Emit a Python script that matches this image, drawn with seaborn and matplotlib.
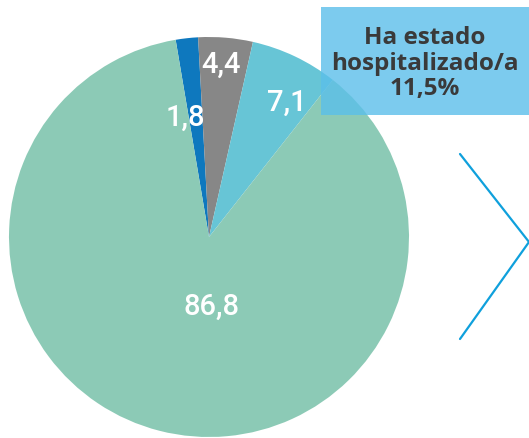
import numpy as np
import matplotlib
matplotlib.use("Agg")
import matplotlib.pyplot as plt
import seaborn as sns

# data
labels = ["1,8", "4,4", "7,1", "86,8"]
values = [1.8, 4.4, 7.1, 86.8]
slice_colors = ["#0E78BE", "#878787", "#67C5D6", "#8CCAB6"]
box_text = "Ha estado\nhospitalizado/a\n11,5%"

sns.set_theme(style="white")
plt.rcParams['font.family'] = ['Open Sans', 'DejaVu Sans']

fig = plt.figure(figsize=(5.29, 4.39), dpi=100)
ax = fig.add_axes([0, 0, 1, 1])

start = 99.6
wedges, _ = ax.pie(values, colors=sns.color_palette(slice_colors), startangle=start,
                   counterclock=False, radius=1.0, center=(0, 0),
                   wedgeprops=dict(linewidth=0))

# label spots (angle in degrees, fraction of radius) as in the original
label_pos = [(101, 0.61), (86, 0.87), (60, 0.78), (-88, 0.345)]
for lab, (ang, d) in zip(labels, label_pos):
    ax.text(d * np.cos(np.radians(ang)), d * np.sin(np.radians(ang)), lab,
            color="white", fontsize=21, family=['Roboto', 'DejaVu Sans'],
            fontweight="medium", ha="center", va="center")

# highlighted box
ax.add_patch(plt.Rectangle((0.56, 0.61), 1.1, 0.54, color="#5BBFEA", alpha=0.8,
                           linewidth=0, zorder=3))
ax.text(1.08, 0.872, box_text, ha="center", va="center", fontsize=17.5,
        fontweight="bold", color="#3A3A3A", linespacing=1.1, zorder=4)

# chevron
ax.plot([1.255, 1.6, 1.255], [0.415, -0.025, -0.51], color="#0FA0DC", lw=1.6)

ax.set_xlim(-1.045, 1.6)
ax.set_ylim(-1.005, 1.19)
ax.set_aspect("equal")
ax.axis("off")

fig.savefig("out.png", dpi=100)
